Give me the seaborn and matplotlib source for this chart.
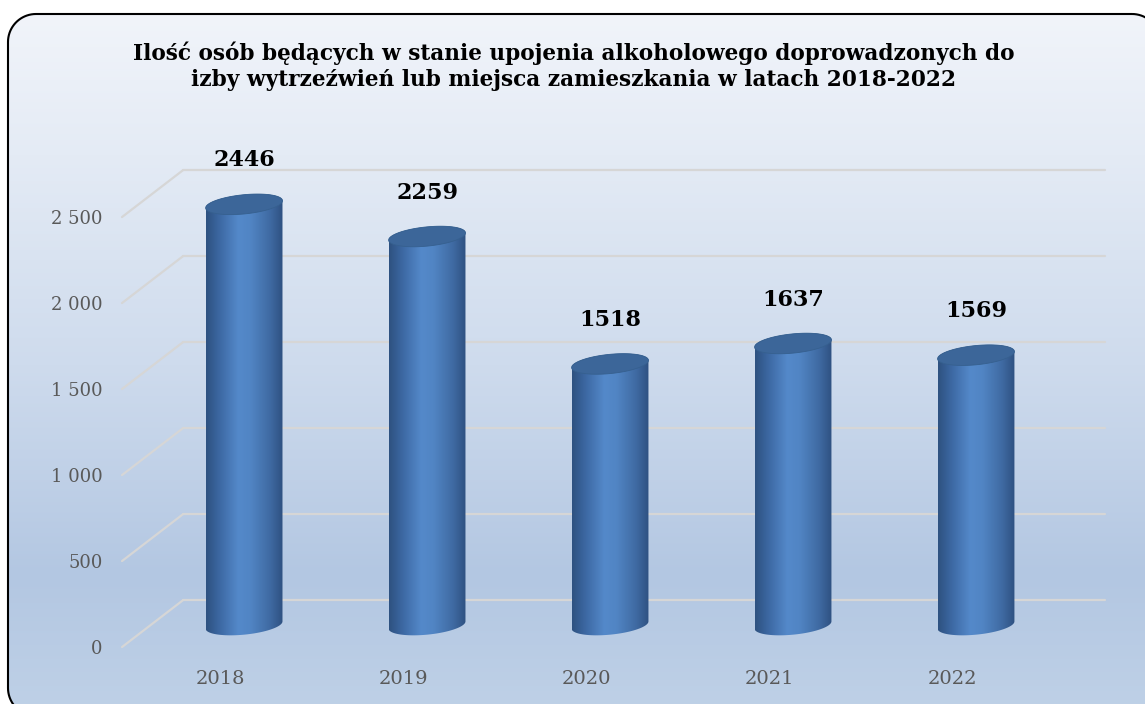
import numpy as np
import pandas as pd
import matplotlib
matplotlib.use('Agg')
import matplotlib.pyplot as plt
import seaborn as sns
from matplotlib.patches import Polygon
from matplotlib.colors import LinearSegmentedColormap

# Data
years = ['2018', '2019', '2020', '2021', '2022']
counts = [2446, 2259, 1518, 1637, 1569]
y_ticks = [0, 500, 1000, 1500, 2000, 2500]
y_tick_labels = ['0', '500', '1 000', '1 500', '2 000', '2 500']
title = ('Ilość osób będących w stanie upojenia alkoholowego doprowadzonych do\n'
         'izby wytrzeźwień lub miejsca zamieszkania w latach 2018-2022')

sns.set_theme(style='white')
plt.rcParams['font.family'] = ['DejaVu Serif']

fig = plt.figure(figsize=(11.45, 7.04), dpi=100)


def rounded_rect(x0, y0, x1, y1, r, n=20):
    # corners in pixel coords (y downwards)
    pts = []
    for cx, cy, a0 in [(x1 - r, y0 + r, -90), (x1 - r, y1 - r, 0),
                       (x0 + r, y1 - r, 90), (x0 + r, y0 + r, 180)]:
        a = np.radians(np.linspace(a0, a0 + 90, n))
        pts.append(np.column_stack([cx + r * np.cos(a), cy + r * np.sin(a)]))
    return np.vstack(pts)


# Background panel with gradient and rounded frame (pixel coordinates)
bg = fig.add_axes([0, 0, 1, 1])
bg.axis('off')
bg_cmap = LinearSegmentedColormap.from_list(
    'bg', [(0, '#f1f4fa'), (0.2, '#e4ebf5'), (0.5, '#cedbed'), (0.8, '#b3c7e2'), (1, '#bfd1e7')])
frame = Polygon(rounded_rect(8, 14, 1160, 716, 28), closed=True,
                facecolor='none', edgecolor='black', linewidth=1.5, zorder=3)
bg.add_patch(frame)
img = bg.imshow(np.linspace(0, 1, 256).reshape(-1, 1), cmap=bg_cmap,
                extent=[8, 1160, 716, 14], aspect='auto', zorder=1)
img.set_clip_path(frame)
bg.set_xlim(0, 1145)
bg.set_ylim(704, 0)
bg.margins(0)

fig.text(574 / 1145, 1 - 66 / 704, title, ha='center', va='center',
         fontsize=15.6, fontweight='bold', linespacing=1.25, color='black')

# Main chart
ymin, ymax = -180, 2770
ax = fig.add_axes([122 / 1145, (704 - 656) / 704, 983 / 1145, 507.4 / 704])
ax.patch.set_alpha(0)
df = pd.DataFrame({'year': years, 'count': counts})
sns.barplot(data=df, x='year', y='count', width=0.42, color='#4a7ab8', ax=ax)

xlo, xhi = -0.667, 4.705
back_off, front_off = 145, -128

# pseudo-3D walls: gridlines at the back and diagonal side lines
for v in y_ticks:
    ax.plot([-0.333, xhi], [v + back_off, v + back_off], color='#d6d6d6', lw=1.6, zorder=1, clip_on=False)
    ax.plot([xlo, -0.333], [v + front_off, v + back_off], color='#d6d6d6', lw=1.6, zorder=1, clip_on=False)

body_cmap = LinearSegmentedColormap.from_list(
    'body', [(0, '#2e5281'), (0.18, '#3d69a4'), (0.42, '#5489ca'), (0.58, '#5185c4'),
             (0.84, '#3f6aa2'), (1, '#2f5282')])
b, k = 56, 100
for p in list(ax.patches):
    x0, w, h = p.get_x(), p.get_width(), p.get_height()
    c = x0 + w / 2
    p.set_visible(False)
    t = np.linspace(np.pi, 2 * np.pi, 60)
    xb = c + w / 2 * np.cos(t)
    yb = b * np.sin(t) + k * (xb - c)
    t2 = np.linspace(0, np.pi, 60)
    xt = c + w / 2 * np.cos(t2)
    yt = h + b * np.sin(t2) + k * (xt - c)
    verts = np.vstack([np.column_stack([xb, yb]), np.column_stack([xt, yt])])
    body = Polygon(verts, closed=True, facecolor='none', edgecolor='none')
    ax.add_patch(body)
    im = ax.imshow(np.linspace(0, 1, 100).reshape(1, -1), cmap=body_cmap,
                   extent=[x0, x0 + w, -250, h + 250], aspect='auto', zorder=3)
    im.set_clip_path(body)
    t3 = np.linspace(0, 2 * np.pi, 120)
    xc = c + w / 2 * np.cos(t3)
    yc = h + b * np.sin(t3) + k * (xc - c)
    ax.add_patch(Polygon(np.column_stack([xc, yc]), closed=True, facecolor='#3c6699',
                         edgecolor='#36608f', lw=0.6, zorder=4))
    ax.text(c, h + 255, f'{int(h)}', ha='center', va='center', fontsize=16,
            fontweight='bold', color='black', zorder=5)

ax.set_xlim(xlo, xhi)
ax.set_ylim(ymin, ymax)
ax.set_yticks([v + front_off for v in y_ticks])
ax.set_yticklabels(y_tick_labels)
ax.set_xticks([i - 0.13 for i in range(len(years))])
ax.set_xticklabels(years)
ax.tick_params(axis='y', length=0, pad=14, labelsize=13, labelcolor='#595959')
ax.tick_params(axis='x', length=0, pad=10, labelsize=14, labelcolor='#595959')
ax.set_xlabel('')
ax.set_ylabel('')
for s in ax.spines.values():
    s.set_visible(False)

fig.savefig('out.png', dpi=100)
